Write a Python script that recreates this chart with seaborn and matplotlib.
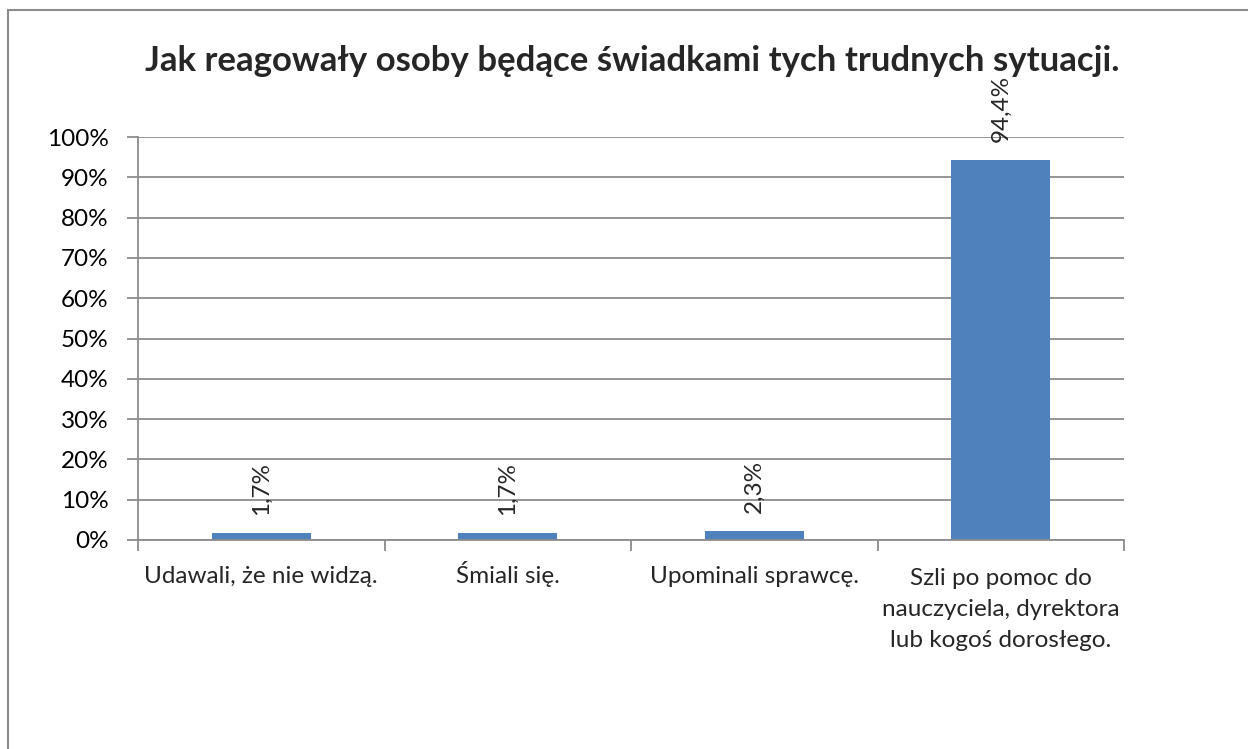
import matplotlib
matplotlib.use("Agg")
import matplotlib.pyplot as plt
import matplotlib.transforms as mtransforms
import seaborn as sns
import pandas as pd
from matplotlib.lines import Line2D

categories = ["Udawali, że nie widzą.", "Śmiali się.", "Upominali sprawcę.",
              "Szli po pomoc do\nnauczyciela, dyrektora\nlub kogoś dorosłego."]
values = [1.7, 1.7, 2.3, 94.4]
labels = ["1,7%", "1,7%", "2,3%", "94,4%"]
yticks = list(range(0, 101, 10))
title = "Jak reagowały osoby będące świadkami tych trudnych sytuacji."

sns.set_theme(style="white")
plt.rcParams['font.family'] = ['Lato', 'DejaVu Sans']

W, H = 1248, 749
FS = 17.5
LINE_PX = 32
fig = plt.figure(figsize=(W/100, H/100), dpi=100)
ax = fig.add_axes([138/W, 1-540/H, (1124-138)/W, (540-137)/H])

df = pd.DataFrame({"cat": categories, "val": values})
sns.barplot(data=df, x="cat", y="val", color="#4F81BD", saturation=1, width=0.4, ax=ax)
for p in ax.patches:
    p.set_edgecolor("none")

ax.set_ylim(0, 100)
ax.set_xlim(-0.5, 3.5)
ax.set_yticks(yticks)
ax.set_yticklabels([f"{t}%" for t in yticks], fontsize=FS)
ax.yaxis.grid(True, color="#8C8C8C", linewidth=1.3)
ax.set_axisbelow(True)
ax.tick_params(axis='y', length=8, width=1.3, color="#8C8C8C", pad=13, left=True, labelcolor="black")
ax.set_xticks([i - 0.5 for i in range(5)], minor=True)
ax.set_xticks(range(4))
ax.set_xticklabels([])
ax.tick_params(axis='x', which='major', length=0)
ax.tick_params(axis='x', which='minor', length=8, width=1.3, color="#8C8C8C", bottom=True)
ax.set_xlabel("")
ax.set_ylabel("")
for s in ["top", "right"]:
    ax.spines[s].set_visible(False)
for s in ["left", "bottom"]:
    ax.spines[s].set_color("#8C8C8C")
    ax.spines[s].set_linewidth(1.3)

# category labels: first-line baseline 43 px below the axis
for i, cat in enumerate(categories):
    nlines = cat.count("\n")
    off = mtransforms.ScaledTranslation(0, -(43 + nlines * LINE_PX) / 100, fig.dpi_scale_trans)
    ax.text(i, 0, cat, transform=ax.get_xaxis_transform() + off, ha="center", va="baseline",
            fontsize=FS, linespacing=1.6, multialignment="center")

for i, (v, lab) in enumerate(zip(values, labels)):
    ax.annotate(lab, xy=(i, v), xytext=(0, 13), textcoords="offset points",
                rotation=90, ha="center", va="bottom", fontsize=FS, annotation_clip=False)

fig.text(632/W, 1-61/H, title, ha="center", va="center", fontsize=25, fontweight="bold")

# chart-area frame: only its left and top edges fall inside the image
x0, y0 = 7.5/W, 1 - 10/H
fig.add_artist(Line2D([x0, x0], [0, y0], transform=fig.transFigure, color="#8C8C8C", linewidth=1.5))
fig.add_artist(Line2D([x0, 1], [y0, y0], transform=fig.transFigure, color="#8C8C8C", linewidth=1.5))

fig.savefig("out.png", dpi=100)
